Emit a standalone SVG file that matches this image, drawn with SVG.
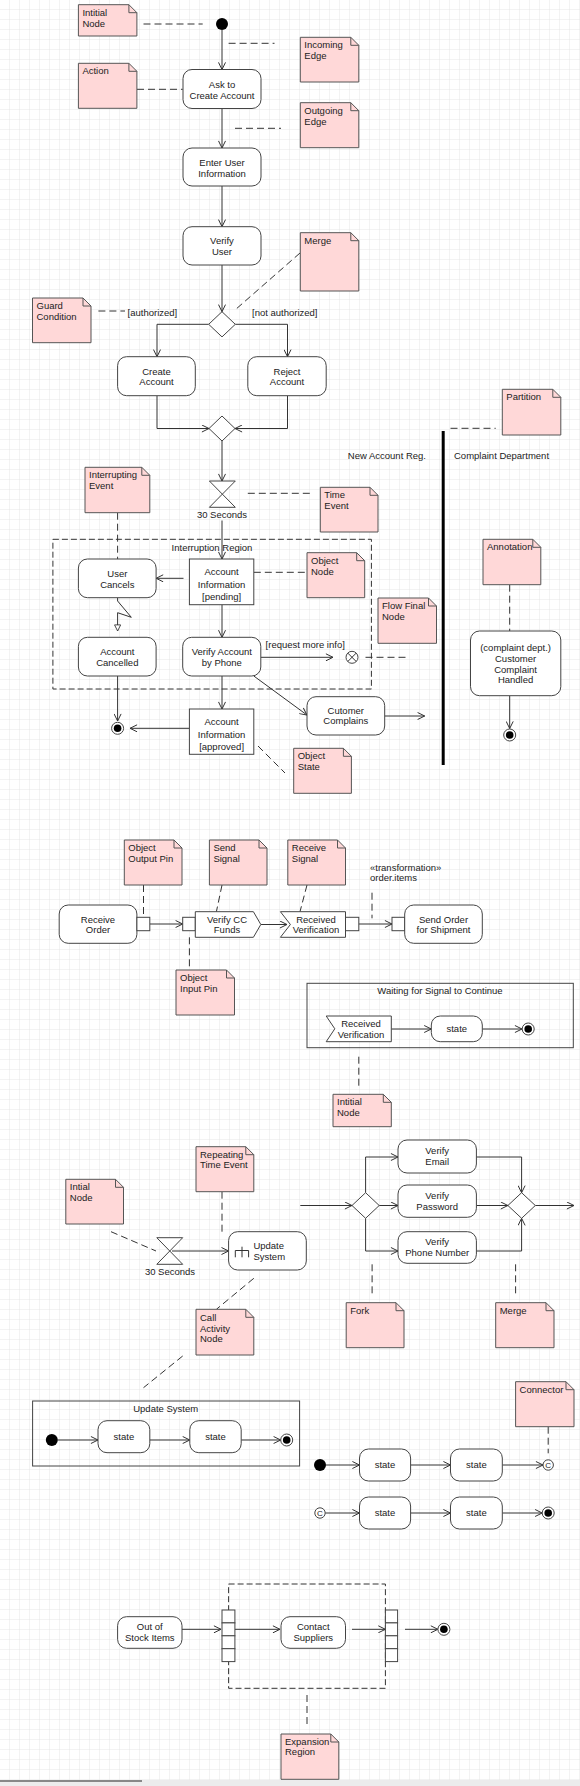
<svg xmlns="http://www.w3.org/2000/svg" width="580" height="1786" viewBox="0 0 580 1786">
<defs>
<pattern id="grid" width="10" height="10" patternUnits="userSpaceOnUse">
<path d="M10,0 V10 M0,10 H10" fill="none" stroke="#e6e6e6" stroke-width="1"/>
</pattern>
<marker id="arr" viewBox="0 0 8 8" refX="7.6" refY="4" markerWidth="8" markerHeight="8" orient="auto" markerUnits="userSpaceOnUse">
<path d="M0.5,0.5 L7.6,4 L0.5,7.5" fill="none" stroke="#333" stroke-width="1"/>
</marker>
<marker id="tri" viewBox="0 0 8 8" refX="7.5" refY="4" markerWidth="7" markerHeight="7" orient="auto" markerUnits="userSpaceOnUse">
<path d="M0.5,0.5 L7.5,4 L0.5,7.5 Z" fill="#fff" stroke="#333" stroke-width="1"/>
</marker>
</defs>
<style>
text{font-family:"Liberation Sans",Arial,sans-serif;font-size:9.5px;fill:#222}
.c{text-anchor:middle}
.e{text-anchor:end}
.box{fill:#fff;stroke:#444;stroke-width:1}
.frm{fill:none;stroke:#444;stroke-width:1}
.note{fill:#ffd8d8;stroke:#555;stroke-width:1}
.fold{fill:none;stroke:#555;stroke-width:1}
.ln{fill:none;stroke:#333;stroke-width:1}
.fl{fill:none;stroke:#333;stroke-width:1;marker-end:url(#arr)}
.dash{fill:none;stroke:#333;stroke-width:1;stroke-dasharray:7,4}
.reg{fill:none;stroke:#333;stroke-width:1;stroke-dasharray:6,3}
.blk{fill:#000}
</style>
<rect width="580" height="1786" fill="#fff"/>
<rect width="580" height="1786" fill="url(#grid)"/>

<g id="frames">
<rect class="frm" x="307" y="983.3" width="266.3" height="64.4"/>
<rect class="frm" x="32.6" y="1401" width="267" height="65"/>
<rect class="reg" x="52.9" y="539.3" width="318.5" height="149.7"/>
<rect class="reg" x="228.6" y="1584" width="156.8" height="104.3"/>
</g>

<g id="connectors">
<line class="fl" x1="222" y1="30" x2="222" y2="69.5"/>
<line class="fl" x1="222" y1="108.7" x2="222" y2="148"/>
<line class="fl" x1="222" y1="186" x2="222" y2="226.7"/>
<line class="fl" x1="222" y1="265" x2="222" y2="311.7"/>
<polyline class="fl" points="208.7,324.3 157,324.3 157,356.7"/>
<polyline class="fl" points="235.3,324.3 287.5,324.3 287.5,356.7"/>
<polyline class="fl" points="157,395.7 157,428.5 209,428.5"/>
<polyline class="fl" points="287.5,395.7 287.5,428.5 235,428.5"/>
<line class="fl" x1="222" y1="441" x2="222" y2="481"/>
<line class="fl" x1="222" y1="520.5" x2="222" y2="559"/>
<line class="fl" x1="183.5" y1="578.3" x2="156.1" y2="578.3"/>
<polyline class="ln" points="117.6,597.7 117.6,601 131.3,617.3 117.6,612.7 117.6,631" style="marker-end:url(#tri)"/>
<line class="fl" x1="222" y1="604.7" x2="222" y2="637.3"/>
<line class="fl" x1="260.8" y1="657.3" x2="333" y2="657.3"/>
<line class="fl" x1="117.6" y1="676" x2="117.6" y2="721"/>
<line class="fl" x1="222" y1="676" x2="222" y2="709"/>
<line class="fl" x1="253.8" y1="676" x2="307" y2="715"/>
<line class="fl" x1="384.7" y1="716" x2="424.7" y2="716"/>
<line class="fl" x1="189.4" y1="728.3" x2="130" y2="728.3"/>
<line class="fl" x1="509.7" y1="695.7" x2="509.7" y2="728.5"/>

<line class="fl" x1="149.8" y1="924" x2="182.7" y2="924"/>
<line class="fl" x1="260.8" y1="924.5" x2="287" y2="924.5"/>
<line class="fl" x1="358.8" y1="924" x2="392" y2="924"/>
<line class="fl" x1="391.3" y1="1029" x2="431.3" y2="1029"/>
<line class="fl" x1="482.3" y1="1029" x2="522" y2="1029"/>

<line class="fl" x1="300.3" y1="1205.5" x2="352" y2="1205.5"/>
<polyline class="fl" points="365.6,1192.7 365.6,1157 398,1157"/>
<line class="fl" x1="379.2" y1="1205.5" x2="398" y2="1205.5"/>
<polyline class="fl" points="365.6,1218.3 365.6,1251 398,1251"/>
<polyline class="fl" points="476.4,1157 521.6,1157 521.6,1192.7"/>
<line class="fl" x1="476.4" y1="1205.5" x2="507.9" y2="1205.5"/>
<polyline class="fl" points="476.4,1251 521.6,1251 521.6,1218.3"/>
<line class="fl" x1="535.3" y1="1205.5" x2="574" y2="1205.5"/>
<line class="fl" x1="172" y1="1251" x2="228.6" y2="1251"/>

<line class="fl" x1="57.8" y1="1440" x2="98" y2="1440"/>
<line class="fl" x1="149.8" y1="1440" x2="189.8" y2="1440"/>
<line class="fl" x1="241.2" y1="1440" x2="280.7" y2="1440"/>
<line class="fl" x1="326" y1="1465" x2="359.5" y2="1465"/>
<line class="fl" x1="410.6" y1="1465" x2="450.5" y2="1465"/>
<line class="fl" x1="502.3" y1="1465" x2="543" y2="1465"/>
<line class="fl" x1="325.2" y1="1513" x2="359.5" y2="1513"/>
<line class="fl" x1="410.6" y1="1513" x2="450.5" y2="1513"/>
<line class="fl" x1="502.3" y1="1513" x2="542.2" y2="1513"/>

<line class="fl" x1="182" y1="1629.3" x2="221" y2="1629.3"/>
<line class="fl" x1="234.9" y1="1629.3" x2="280" y2="1629.3"/>
<line class="fl" x1="352" y1="1629.3" x2="385.4" y2="1629.3"/>
<line class="fl" x1="405" y1="1629.3" x2="437.9" y2="1629.3"/>

<line class="dash" x1="143.5" y1="24" x2="202.7" y2="24"/>
<line class="dash" x1="228.6" y1="43.3" x2="274.5" y2="43.3"/>
<line class="dash" x1="137" y1="89.3" x2="182.7" y2="89.3"/>
<line class="dash" x1="235" y1="128.3" x2="281" y2="128.3"/>
<line class="dash" x1="300" y1="253" x2="235" y2="310"/>
<line class="dash" x1="98.4" y1="311" x2="125" y2="311"/>
<line class="dash" x1="450.5" y1="428.3" x2="495.7" y2="428.3"/>
<line class="dash" x1="117.6" y1="512.7" x2="117.6" y2="559"/>
<line class="dash" x1="247.8" y1="493.3" x2="313.7" y2="493.3"/>
<line class="dash" x1="253.8" y1="572.3" x2="307" y2="572.3"/>
<line class="dash" x1="509.7" y1="584.7" x2="509.7" y2="631"/>
<line class="dash" x1="365.5" y1="657.3" x2="406" y2="657.3"/>
<line class="dash" x1="258" y1="746" x2="285" y2="773"/>
<line class="dash" x1="143.5" y1="885" x2="143.5" y2="917.3"/>
<line class="dash" x1="222" y1="885" x2="216.4" y2="911.7"/>
<line class="dash" x1="307" y1="885" x2="300" y2="911.7"/>
<line class="dash" x1="372" y1="892.7" x2="372" y2="918.3"/>
<line class="dash" x1="189.4" y1="937.3" x2="189.4" y2="968.3"/>
<line class="dash" x1="358.8" y1="1056.7" x2="358.8" y2="1087.3"/>
<line class="dash" x1="222" y1="1191.7" x2="222" y2="1231.7"/>
<line class="dash" x1="111" y1="1231.7" x2="156" y2="1251"/>
<line class="dash" x1="372.1" y1="1264.3" x2="372.1" y2="1296"/>
<line class="dash" x1="515.6" y1="1264.3" x2="515.6" y2="1296"/>
<line class="dash" x1="253.8" y1="1278.3" x2="216.4" y2="1309.3"/>
<line class="dash" x1="182.7" y1="1356" x2="143.5" y2="1387.7"/>
<line class="dash" x1="548.2" y1="1426.7" x2="548.2" y2="1453.3"/>
<line class="dash" x1="307" y1="1695" x2="307" y2="1726"/>
</g>

<g id="partition">
<line x1="443.2" y1="431" x2="443.2" y2="765" stroke="#000" stroke-width="3"/>
<text class="e" x="426" y="459">New Account Reg.</text>
<text x="454" y="459">Complaint Department</text>
</g>

<g id="interruption-region">
<text class="c" x="212" y="550.7">Interruption Region</text>
</g>

<g id="initial1"><circle class="blk" cx="222" cy="24" r="6"/></g>
<g id="ask"><rect class="box" x="183" y="69.5" width="78" height="39" rx="9"/><text class="c" x="222" y="87.5">Ask to</text><text class="c" x="222" y="98.5">Create Account</text></g>
<g id="enter"><rect class="box" x="183" y="148" width="78" height="38" rx="9"/><text class="c" x="222" y="165.7">Enter User</text><text class="c" x="222" y="176.7">Information</text></g>
<g id="verify-user"><rect class="box" x="183" y="226.7" width="78" height="38.3" rx="9"/><text class="c" x="222" y="244">Verify</text><text class="c" x="222" y="254.7">User</text></g>
<g id="decision1"><polygon class="box" points="222,311.7 235.3,324.3 222,336.9 208.7,324.3"/>
<text x="127.6" y="316">[authorized]</text><text x="252" y="316">[not authorized]</text></g>
<g id="create"><rect class="box" x="117.6" y="356.7" width="77.7" height="39" rx="9"/><text class="c" x="156.5" y="374.7">Create</text><text class="c" x="156.5" y="385.4">Account</text></g>
<g id="reject"><rect class="box" x="247.8" y="356.7" width="78.4" height="39" rx="9"/><text class="c" x="287" y="374.7">Reject</text><text class="c" x="287" y="385.4">Account</text></g>
<g id="merge1"><polygon class="box" points="222,416 235,428.5 222,441 209,428.5"/></g>
<g id="time1"><path class="box" d="M209.4,481 H235.3 L209.4,507.3 H235.3 Z"/><text class="c" x="222" y="517.7">30 Seconds</text></g>
<g id="acct-pending"><rect class="box" x="189.4" y="559" width="64.4" height="45.7"/><text class="c" x="221.6" y="575.4">Account</text><text class="c" x="221.6" y="588.4">Information</text><text class="c" x="221.6" y="600.1">[pending]</text></g>
<g id="user-cancels"><rect class="box" x="78.4" y="559" width="77.7" height="38.7" rx="9"/><text class="c" x="117.3" y="576.7">User</text><text class="c" x="117.3" y="587.7">Cancels</text></g>
<g id="acct-cancelled"><rect class="box" x="78.4" y="637.3" width="77.7" height="38.7" rx="9"/><text class="c" x="117.3" y="655.4">Account</text><text class="c" x="117.3" y="666.1">Cancelled</text></g>
<g id="verify-phone"><rect class="box" x="182.7" y="637.3" width="78.1" height="38.7" rx="9"/><text class="c" x="221.8" y="655.4">Verify Account</text><text class="c" x="221.8" y="666.1">by Phone</text>
<text x="265.6" y="648.4">[request more info]</text></g>
<g id="flow-final"><circle class="box" cx="352" cy="657.3" r="6"/><path class="ln" d="M347.8,653.1 L356.2,661.5 M356.2,653.1 L347.8,661.5"/></g>
<g id="final1"><circle class="box" cx="117.6" cy="728.3" r="6"/><circle class="blk" cx="117.6" cy="728.3" r="3.8"/></g>
<g id="acct-approved"><rect class="box" x="189.4" y="709" width="64.4" height="45.3"/><text class="c" x="221.6" y="725.4">Account</text><text class="c" x="221.6" y="738.4">Information</text><text class="c" x="221.6" y="750.1">[approved]</text></g>
<g id="customer-complains"><rect class="box" x="307" y="696.7" width="77.7" height="38.3" rx="9"/><text class="c" x="345.8" y="714.1">Cutomer</text><text class="c" x="345.8" y="724.4">Complains</text></g>
<g id="complaint-handled"><rect class="box" x="470.5" y="631" width="90.3" height="64.7" rx="9"/><text class="c" x="515.6" y="651.1">(complaint dept.)</text><text class="c" x="515.6" y="661.7">Customer</text><text class="c" x="515.6" y="672.7">Complaint</text><text class="c" x="515.6" y="683.4">Handled</text></g>
<g id="final2"><circle class="box" cx="509.7" cy="735" r="6"/><circle class="blk" cx="509.7" cy="735" r="3.8"/></g>

<g id="receive-order"><rect class="box" x="59.2" y="905" width="77.7" height="38.3" rx="9"/><text class="c" x="98" y="922.7">Receive</text><text class="c" x="98" y="933.4">Order</text>
<rect class="box" x="136.9" y="917.3" width="12.9" height="13.4"/></g>
<g id="verify-cc"><rect class="box" x="182.7" y="917.3" width="12.6" height="13.4"/><polygon class="box" points="195.3,911.7 253.4,911.7 260.8,924.5 253.4,937.3 195.3,937.3"/><text class="c" x="227" y="922.7">Verify CC</text><text class="c" x="227" y="933.4">Funds</text></g>
<g id="received-verification"><polygon class="box" points="280.4,911.7 345.5,911.7 345.5,937.3 280.4,937.3 290.4,924.5"/><text class="c" x="316" y="922.7">Received</text><text class="c" x="316" y="933.4">Verification</text>
<rect class="box" x="345.5" y="917.3" width="13.3" height="13.4"/>
<text x="370" y="870.7">«transformation»</text><text x="370" y="881.4">order.items</text></g>
<g id="send-order"><rect class="box" x="392" y="917.3" width="12.7" height="13.4"/><rect class="box" x="404.7" y="905" width="77.6" height="38.3" rx="9"/><text class="c" x="443.5" y="922.7">Send Order</text><text class="c" x="443.5" y="933.4">for Shipment</text></g>

<g id="waiting-frame"><text class="c" x="440" y="994.4">Waiting for Signal to Continue</text>
<polygon class="box" points="326.2,1016 391.3,1016 391.3,1041.7 326.2,1041.7 334.8,1028.8"/><text class="c" x="361" y="1027.4">Received</text><text class="c" x="361" y="1038.1">Verification</text>
<rect class="box" x="431.3" y="1016" width="51" height="25.7" rx="9"/><text class="c" x="456.8" y="1032.4">state</text>
<circle class="box" cx="528.2" cy="1029" r="6"/><circle class="blk" cx="528.2" cy="1029" r="3.8"/></g>

<g id="fork"><polygon class="box" points="365.6,1192.7 379.2,1205.5 365.6,1218.3 352,1205.5"/></g>
<g id="verify-email"><rect class="box" x="398" y="1140" width="78.4" height="33" rx="9"/><text class="c" x="437.2" y="1154.1">Verify</text><text class="c" x="437.2" y="1164.7">Email</text></g>
<g id="verify-password"><rect class="box" x="398" y="1185" width="78.4" height="32.3" rx="9"/><text class="c" x="437.2" y="1199.1">Verify</text><text class="c" x="437.2" y="1210.1">Password</text></g>
<g id="verify-phone-number"><rect class="box" x="398" y="1231.7" width="78.4" height="31.6" rx="9"/><text class="c" x="437.2" y="1245.1">Verify</text><text class="c" x="437.2" y="1255.7">Phone Number</text></g>
<g id="merge2"><polygon class="box" points="521.6,1192.7 535.3,1205.5 521.6,1218.3 507.9,1205.5"/></g>
<g id="time2"><path class="box" d="M156.8,1237.7 H182.7 L156.8,1264.3 H182.7 Z"/><text class="c" x="170" y="1275">30 Seconds</text></g>
<g id="update-system"><rect class="box" x="228.6" y="1231.7" width="77.7" height="38.3" rx="9"/>
<path class="ln" d="M235.3,1257.3 V1250.5 H248.6 V1257.3 M242,1246.7 V1257.3"/>
<text x="253.4" y="1249">Update</text><text x="253.4" y="1260">System</text></g>

<g id="update-frame"><text class="c" x="165.7" y="1412.4">Update System</text>
<circle class="blk" cx="51.8" cy="1440" r="6"/>
<rect class="box" x="98" y="1420.7" width="51.8" height="32" rx="9"/><text class="c" x="123.9" y="1440.4">state</text>
<rect class="box" x="189.8" y="1420.7" width="51.4" height="32" rx="9"/><text class="c" x="215.5" y="1440.4">state</text>
<circle class="box" cx="286.7" cy="1440" r="6"/><circle class="blk" cx="286.7" cy="1440" r="3.8"/></g>

<g id="connector-row1"><circle class="blk" cx="320" cy="1465" r="6"/>
<rect class="box" x="359.5" y="1449" width="51.1" height="32" rx="9"/><text class="c" x="385" y="1468.4">state</text>
<rect class="box" x="450.5" y="1449" width="51.8" height="32" rx="9"/><text class="c" x="476.4" y="1468.4">state</text>
<circle class="box" cx="548.2" cy="1465" r="5.2"/><text class="c" x="548.2" y="1467.9" style="font-size:8px">C</text></g>
<g id="connector-row2"><circle class="box" cx="320" cy="1513" r="5.2"/><text class="c" x="320" y="1515.9" style="font-size:8px">C</text>
<rect class="box" x="359.5" y="1497" width="51.1" height="32" rx="9"/><text class="c" x="385" y="1516.4">state</text>
<rect class="box" x="450.5" y="1497" width="51.8" height="32" rx="9"/><text class="c" x="476.4" y="1516.4">state</text>
<circle class="box" cx="548.2" cy="1513" r="6"/><circle class="blk" cx="548.2" cy="1513" r="3.8"/></g>

<g id="expansion-region">
<rect class="box" x="117.6" y="1616.7" width="64.4" height="31.6" rx="9"/><text class="c" x="149.8" y="1630.1">Out of</text><text class="c" x="149.8" y="1641.1">Stock Items</text>
<rect class="box" x="222" y="1610" width="12.9" height="12.9"/><rect class="box" x="222" y="1622.9" width="12.9" height="12.9"/><rect class="box" x="222" y="1635.8" width="12.9" height="12.9"/><rect class="box" x="222" y="1648.7" width="12.9" height="12.9"/>
<rect class="box" x="281" y="1616.7" width="64.5" height="31.6" rx="9"/><text class="c" x="313.3" y="1630.1">Contact</text><text class="c" x="313.3" y="1641.1">Suppliers</text>
<rect class="box" x="385.4" y="1610" width="12.2" height="12.9"/><rect class="box" x="385.4" y="1622.9" width="12.2" height="12.9"/><rect class="box" x="385.4" y="1635.8" width="12.2" height="12.9"/><rect class="box" x="385.4" y="1648.7" width="12.2" height="12.9"/>
<circle class="box" cx="443.9" cy="1629.3" r="6"/><circle class="blk" cx="443.9" cy="1629.3" r="3.8"/></g>

<g id="notes">
<g id="n-init1"><path class="note" d="M78.4,4.7 H128.9 L136.9,12.7 V36 H78.4 Z"/><path class="fold" d="M128.9,4.7 V12.7 H136.9"/><text x="82.4" y="15.7">Intitial</text><text x="82.4" y="26.7">Node</text></g>
<g id="n-incoming"><path class="note" d="M300.3,37.3 H350.8 L358.8,45.3 V82 H300.3 Z"/><path class="fold" d="M350.8,37.3 V45.3 H358.8"/><text x="304.3" y="48.3">Incoming</text><text x="304.3" y="59.3">Edge</text></g>
<g id="n-action"><path class="note" d="M78.4,63.3 H128.9 L136.9,71.3 V108.3 H78.4 Z"/><path class="fold" d="M128.9,63.3 V71.3 H136.9"/><text x="82.4" y="74.3">Action</text></g>
<g id="n-outgoing"><path class="note" d="M300.3,102.7 H350.8 L358.8,110.7 V147.7 H300.3 Z"/><path class="fold" d="M350.8,102.7 V110.7 H358.8"/><text x="304.3" y="113.7">Outgoing</text><text x="304.3" y="124.7">Edge</text></g>
<g id="n-merge1"><path class="note" d="M300.3,232.7 H350.8 L358.8,240.7 V291 H300.3 Z"/><path class="fold" d="M350.8,232.7 V240.7 H358.8"/><text x="304.3" y="243.7">Merge</text></g>
<g id="n-guard"><path class="note" d="M32.5,298 H83 L91,306 V342.7 H32.5 Z"/><path class="fold" d="M83,298 V306 H91"/><text x="36.5" y="309">Guard</text><text x="36.5" y="320">Condition</text></g>
<g id="n-partition"><path class="note" d="M502.3,389.3 H552.8 L560.8,397.3 V435 H502.3 Z"/><path class="fold" d="M552.8,389.3 V397.3 H560.8"/><text x="506.3" y="400.3">Partition</text></g>
<g id="n-interrupting"><path class="note" d="M85,467.3 H141.8 L149.8,475.3 V512.7 H85 Z"/><path class="fold" d="M141.8,467.3 V475.3 H149.8"/><text x="89" y="478.3">Interrupting</text><text x="89" y="489.3">Event</text></g>
<g id="n-time"><path class="note" d="M320.3,487.3 H370 L378,495.3 V532 H320.3 Z"/><path class="fold" d="M370,487.3 V495.3 H378"/><text x="324.3" y="498.3">Time</text><text x="324.3" y="509.3">Event</text></g>
<g id="n-object"><path class="note" d="M307,552.7 H356.7 L364.7,560.7 V597.7 H307 Z"/><path class="fold" d="M356.7,552.7 V560.7 H364.7"/><text x="311" y="563.7">Object</text><text x="311" y="574.7">Node</text></g>
<g id="n-flowfinal"><path class="note" d="M378,598 H428.5 L436.5,606 V643.3 H378 Z"/><path class="fold" d="M428.5,598 V606 H436.5"/><text x="382" y="609.4">Flow Final</text><text x="382" y="620.1">Node</text></g>
<g id="n-annotation"><path class="note" d="M483,539.3 H532.8 L540.8,547.3 V584.7 H483 Z"/><path class="fold" d="M532.8,539.3 V547.3 H540.8"/><text x="487" y="550.3">Annotation</text></g>
<g id="n-objstate"><path class="note" d="M293.7,748.3 H343.4 L351.4,756.3 V793.3 H293.7 Z"/><path class="fold" d="M343.4,748.3 V756.3 H351.4"/><text x="297.7" y="759.4">Object</text><text x="297.7" y="770.1">State</text></g>
<g id="n-outpin"><path class="note" d="M124.3,840 H174 L182,848 V885 H124.3 Z"/><path class="fold" d="M174,840 V848 H182"/><text x="128.3" y="850.7">Object</text><text x="128.3" y="861.7">Output Pin</text></g>
<g id="n-send"><path class="note" d="M209.4,840 H259 L267,848 V885 H209.4 Z"/><path class="fold" d="M259,840 V848 H267"/><text x="213.4" y="850.7">Send</text><text x="213.4" y="861.7">Signal</text></g>
<g id="n-receive"><path class="note" d="M287.8,840 H337.5 L345.5,848 V885 H287.8 Z"/><path class="fold" d="M337.5,840 V848 H345.5"/><text x="291.8" y="850.7">Receive</text><text x="291.8" y="861.7">Signal</text></g>
<g id="n-inpin"><path class="note" d="M176,970 H226.5 L234.5,978 V1015 H176 Z"/><path class="fold" d="M226.5,970 V978 H234.5"/><text x="180" y="981.4">Object</text><text x="180" y="992.4">Input Pin</text></g>
<g id="n-init2"><path class="note" d="M333,1094.3 H383.3 L391.3,1102.3 V1126.7 H333 Z"/><path class="fold" d="M383.3,1094.3 V1102.3 H391.3"/><text x="337" y="1105.4">Intitial</text><text x="337" y="1116.1">Node</text></g>
<g id="n-repeat"><path class="note" d="M196,1146.7 H245.8 L253.8,1154.7 V1191.7 H196 Z"/><path class="fold" d="M245.8,1146.7 V1154.7 H253.8"/><text x="200" y="1157.7">Repeating</text><text x="200" y="1168.4">Time Event</text></g>
<g id="n-init3"><path class="note" d="M65.8,1179.3 H115.5 L123.5,1187.3 V1224 H65.8 Z"/><path class="fold" d="M115.5,1179.3 V1187.3 H123.5"/><text x="69.8" y="1190.1">Intial</text><text x="69.8" y="1200.7">Node</text></g>
<g id="n-fork"><path class="note" d="M346.2,1302.7 H396 L404,1310.7 V1347.7 H346.2 Z"/><path class="fold" d="M396,1302.7 V1310.7 H404"/><text x="350.2" y="1314.1">Fork</text></g>
<g id="n-merge2"><path class="note" d="M495.7,1302.7 H546 L554,1310.7 V1347.7 H495.7 Z"/><path class="fold" d="M546,1302.7 V1310.7 H554"/><text x="499.7" y="1314.1">Merge</text></g>
<g id="n-call"><path class="note" d="M196,1309.3 H245.8 L253.8,1317.3 V1355 H196 Z"/><path class="fold" d="M245.8,1309.3 V1317.3 H253.8"/><text x="200" y="1320.7">Call</text><text x="200" y="1331.7">Activity</text><text x="200" y="1342.4">Node</text></g>
<g id="n-connector"><path class="note" d="M515.6,1381.7 H566 L574,1389.7 V1426.7 H515.6 Z"/><path class="fold" d="M566,1381.7 V1389.7 H574"/><text x="519.6" y="1392.7">Connector</text></g>
<g id="n-expansion"><path class="note" d="M281,1734 H330.8 L338.8,1742 V1779.3 H281 Z"/><path class="fold" d="M330.8,1734 V1742 H338.8"/><text x="285" y="1744.7">Expansion</text><text x="285" y="1755.4">Region</text></g>
</g>

<g id="scrollbar"><rect x="0" y="1780" width="580" height="6" fill="#ececec"/><rect x="0" y="1780" width="142" height="2" fill="#888"/></g>
</svg>
